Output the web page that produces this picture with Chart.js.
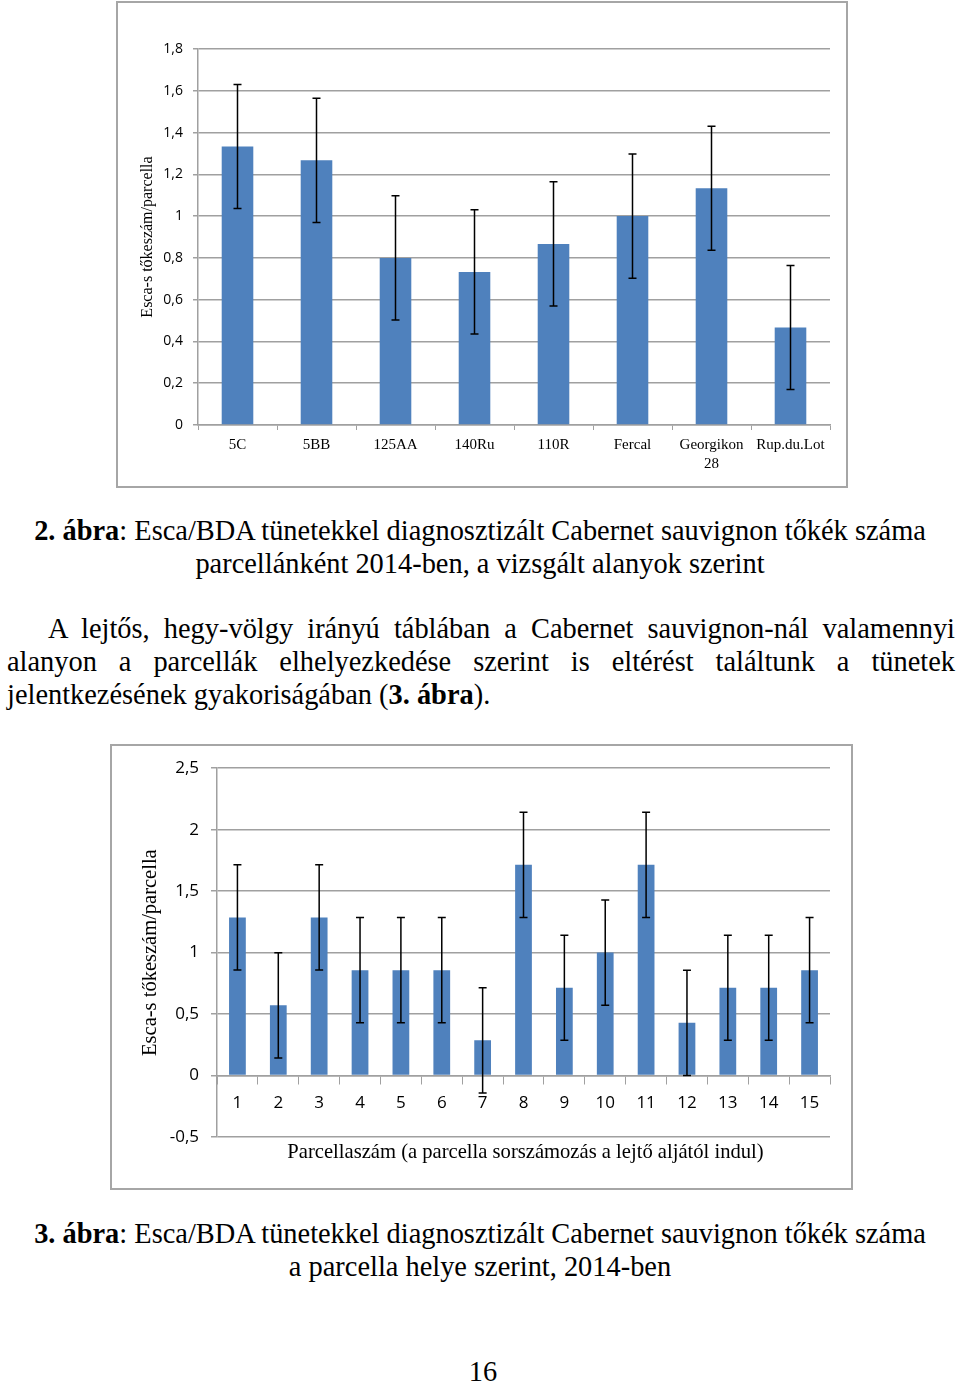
<!DOCTYPE html>
<html>
<head>
<meta charset="utf-8">
<script src="https://cdn.jsdelivr.net/npm/chart.js@4.4.1/dist/chart.umd.min.js"></script>
<style>
  body { margin: 0; width: 960px; height: 1385px; background: #fff; position: relative; font-family: "Liberation Serif", "Times New Roman", serif; color: #000; }
  .box { position: absolute; box-sizing: border-box; border: 2px solid #a6a6a6; background: #fff; }
  .txt { position: absolute; font-size: 28.4px; line-height: 33px; white-space: nowrap; }
  .center { left: 0; width: 960px; text-align: center; }
  .just span { display: block; text-align: justify; text-align-last: justify; }
  .just span.last { text-align-last: left; }
</style>
</head>
<body>
<div class="box" style="left:116px; top:1px; width:732px; height:487px;">
  <canvas id="rootstockChart" width="728" height="483"></canvas>
</div>

<div class="txt center" style="top:514px;"><b>2. ábra</b>: Esca/BDA tünetekkel diagnosztizált Cabernet sauvignon tőkék száma<br>parcellánként 2014-ben, a vizsgált alanyok szerint</div>

<div class="txt just" style="top:612px; left:7px; width:948px;">
  <span style="text-indent:41px;">A lejtős, hegy-völgy irányú táblában a Cabernet sauvignon-nál valamennyi</span>
  <span>alanyon a parcellák elhelyezkedése szerint is eltérést találtunk a tünetek</span>
  <span class="last">jelentkezésének gyakoriságában (<b>3. ábra</b>).</span>
</div>

<div class="box" style="left:110px; top:744px; width:743px; height:446px;">
  <canvas id="plotChart" width="739" height="442"></canvas>
</div>

<div class="txt center" style="top:1217px;"><b>3. ábra</b>: Esca/BDA tünetekkel diagnosztizált Cabernet sauvignon tőkék száma<br>a parcella helye szerint, 2014-ben</div>

<div class="txt center" style="top:1355px; left:3px;">16</div>

<script>
// 2. ábra - alanyok
var rootstocks = ['5C', '5BB', '125AA', '140Ru', '110R', 'Fercal', ['Georgikon', '28'], 'Rup.du.Lot'];
var rootstockMeans = [1.333, 1.267, 0.8, 0.733, 0.867, 1.0, 1.133, 0.467];
var rootstockErrors = [0.297, 0.297, 0.297, 0.297, 0.297, 0.297, 0.297, 0.297];

// 3. ábra - parcellák
var plots = ['1', '2', '3', '4', '5', '6', '7', '8', '9', '10', '11', '12', '13', '14', '15'];
var plotMeans = [1.286, 0.571, 1.286, 0.857, 0.857, 0.857, 0.286, 1.714, 0.714, 1.0, 1.714, 0.429, 0.714, 0.714, 0.857];
var plotErrors = [0.428, 0.428, 0.428, 0.428, 0.428, 0.428, 0.428, 0.428, 0.428, 0.428, 0.428, 0.428, 0.428, 0.428, 0.428];

var barColor = '#4f81bd';
var gridColor = '#a0a0a0';

function commaTick(v) {
    return String(Math.round(v * 10) / 10).replace('.', ',');
}

// draws error bars from the errors array of each dataset
var errorBars = {
    id: 'errorBars',
    afterDatasetsDraw: function(chart) {
        var ctx = chart.ctx;
        var yScale = chart.scales.y;
        chart.data.datasets.forEach(function(ds, i) {
            var meta = chart.getDatasetMeta(i);
            meta.data.forEach(function(bar, j) {
                var top = yScale.getPixelForValue(ds.data[j] + ds.errors[j]);
                var bottom = yScale.getPixelForValue(ds.data[j] - ds.errors[j]);
                var cap = 4;
                ctx.save();
                ctx.strokeStyle = '#000';
                ctx.lineWidth = 1.5;
                ctx.beginPath();
                ctx.moveTo(bar.x, top);
                ctx.lineTo(bar.x, bottom);
                ctx.moveTo(bar.x - cap, top);
                ctx.lineTo(bar.x + cap, top);
                ctx.moveTo(bar.x - cap, bottom);
                ctx.lineTo(bar.x + cap, bottom);
                ctx.stroke();
                ctx.restore();
            });
        });
    }
};

// x axis title under the plot area (the axis itself sits on the zero line)
var xTitle = {
    id: 'xTitle',
    afterDraw: function(chart, args, opts) {
        var area = chart.chartArea;
        var ctx = chart.ctx;
        ctx.save();
        ctx.fillStyle = '#000';
        ctx.font = opts.size + 'px "Liberation Serif"';
        ctx.textAlign = 'center';
        ctx.textBaseline = 'middle';
        ctx.fillText(opts.text, (area.left + area.right) / 2 + 2, area.bottom + opts.offset);
        ctx.restore();
    }
};

Chart.defaults.color = '#000';
Chart.defaults.animation = false;

new Chart(document.getElementById('rootstockChart').getContext('2d'), {
    type: 'bar',
    data: {
        labels: rootstocks,
        datasets: [{
            data: rootstockMeans,
            errors: rootstockErrors,
            backgroundColor: barColor,
            barPercentage: 0.8,
            categoryPercentage: 0.5
        }]
    },
    options: {
        responsive: false,
        layout: { padding: { left: 0, right: 16, top: 46, bottom: 0 } },
        plugins: { legend: { display: false }, tooltip: { enabled: false } },
        scales: {
            x: {
                grid: { drawOnChartArea: false, offset: true, color: gridColor, tickLength: 5 },
                border: { color: gridColor, width: 1.5 },
                ticks: { padding: 6, maxRotation: 0, autoSkip: false, font: { family: 'Liberation Serif', size: 15, lineHeight: 1.25 } },
                afterFit: function(scale) { scale.height = 61; }
            },
            y: {
                min: 0,
                max: 1.8,
                ticks: { stepSize: 0.2, padding: 10, callback: commaTick, font: { family: 'Open Sans', size: 14 } },
                grid: { color: gridColor, lineWidth: 1.5, tickLength: 5 },
                border: { color: gridColor, width: 1.5 },
                title: { display: true, text: 'Esca-s tőkeszám/parcella', padding: { top: 20, bottom: 0 }, font: { family: 'Liberation Serif', size: 16 } },
                afterFit: function(scale) { scale.width = 80; }
            }
        }
    },
    plugins: [errorBars]
});

new Chart(document.getElementById('plotChart').getContext('2d'), {
    type: 'bar',
    data: {
        labels: plots,
        datasets: [{
            data: plotMeans,
            errors: plotErrors,
            backgroundColor: barColor,
            barPercentage: 0.82,
            categoryPercentage: 0.5
        }]
    },
    options: {
        responsive: false,
        layout: { padding: { left: 0, right: 21, top: 21, bottom: 51 } },
        plugins: {
            legend: { display: false },
            tooltip: { enabled: false },
            xTitle: { text: 'Parcellaszám (a parcella sorszámozás a lejtő aljától indul)', size: 20.6, offset: 16 }
        },
        scales: {
            x: {
                position: { y: 0 },
                grid: { drawOnChartArea: false, offset: true, color: gridColor, tickLength: 8 },
                border: { color: gridColor, width: 1.5 },
                ticks: { padding: 9, maxRotation: 0, autoSkip: false, font: { family: 'Open Sans', size: 17 } }
            },
            y: {
                min: -0.5,
                max: 2.5,
                ticks: { stepSize: 0.5, padding: 12, callback: commaTick, font: { family: 'Open Sans', size: 17 } },
                grid: { color: gridColor, lineWidth: 1.5, tickLength: 6 },
                border: { color: gridColor, width: 1.5 },
                title: { display: true, text: 'Esca-s tőkeszám/parcella', padding: { top: 26, bottom: 0 }, font: { family: 'Liberation Serif', size: 20.5 } },
                afterFit: function(scale) { scale.width = 105; }
            }
        }
    },
    plugins: [errorBars, xTitle]
});
</script>
</body>
</html>
